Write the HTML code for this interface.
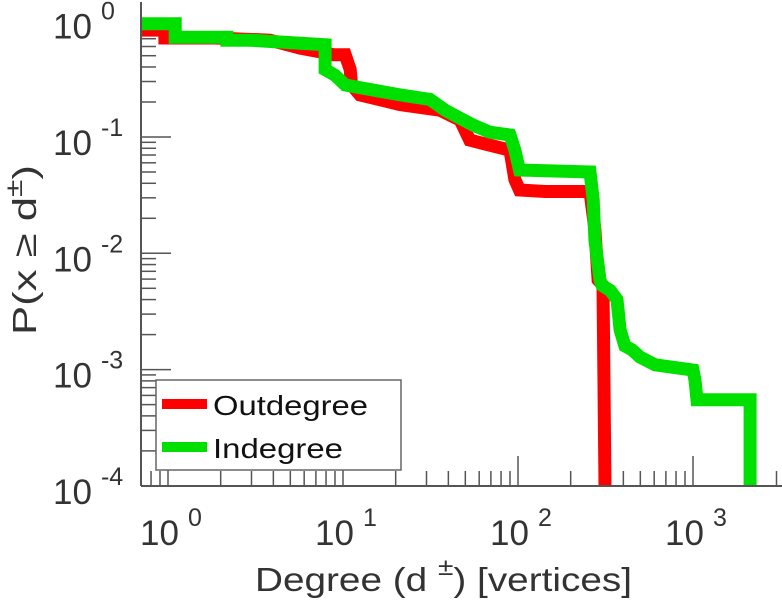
<!DOCTYPE html>
<html><head><meta charset="utf-8"><style>
html,body{margin:0;padding:0;background:#fff;}
svg{display:block;font-family:"Liberation Sans",sans-serif;}
</style></head><body>
<svg id="chart" width="782" height="600" viewBox="0 0 782 600" xmlns="http://www.w3.org/2000/svg">
<g id="ticks"></g>
<g id="series"></g>
<g id="labels"></g>
<line x1="141" y1="2" x2="141" y2="486" stroke="#555" stroke-width="2"/>
<line x1="141" y1="486" x2="782" y2="486" stroke="#555" stroke-width="2"/>
<text x="255" y="591" font-size="33" fill="#333" textLength="377" lengthAdjust="spacingAndGlyphs">Degree (d  <tspan dy="-16" font-size="24">±</tspan><tspan dy="16">) [vertices]</tspan></text>
<text transform="translate(36,335) rotate(-90)" font-size="33" fill="#333" textLength="170" lengthAdjust="spacingAndGlyphs">P(x ≥ d<tspan dy="-14" font-size="24">±</tspan><tspan dy="14">)</tspan></text>
<g>
<rect x="156" y="380" width="245" height="90" fill="#fff" stroke="#666" stroke-width="1.5"/>
<line x1="162" y1="404" x2="207" y2="404" stroke="#ff0000" stroke-width="10"/>
<text x="213" y="415" font-size="28" fill="#111" textLength="155" lengthAdjust="spacingAndGlyphs">Outdegree</text>
<line x1="162" y1="447" x2="207" y2="447" stroke="#00e000" stroke-width="10"/>
<text x="213" y="458" font-size="28" fill="#111" textLength="130" lengthAdjust="spacingAndGlyphs">Indegree</text>
</g>
</svg>
<script>
const xTickExps = [0, 1, 2, 3];
const yTickExps = [0, -1, -2, -3, -4];
const outX = [0.7,0.96,0.96,1.86,3.83,5.7,7.4,8.8,10.3,11.0,11.2,12.5,21.2,35.8,46.7,53,69,90,96,102,143,258,275,287,306,314];
const outY = [0.83,0.83,0.71,0.71,0.68,0.58,0.54,0.51,0.51,0.38,0.28,0.23,0.19,0.17,0.14,0.094,0.085,0.077,0.043,0.035,0.034,0.034,0.016,0.0059,0.0053,0.0001];
const inX = [0.7,1.1,1.1,2.17,2.17,2.94,7.9,7.9,9.0,10.3,21.2,31.4,38.3,55,69,90,96,102,258,269,275,294,302,336,368,383,408,448,498,607,1000,1026,1054,2120,2120];
const inY = [0.94,0.94,0.72,0.72,0.68,0.68,0.62,0.38,0.34,0.28,0.23,0.21,0.17,0.127,0.11,0.104,0.077,0.052,0.05,0.029,0.013,0.0059,0.0053,0.0048,0.004,0.0022,0.0016,0.00148,0.00128,0.0011,0.00099,0.00081,0.00055,0.00055,0.0001];

const NS = "http://www.w3.org/2000/svg";
const X0 = 168, XD = 175, Y0 = 20.7, YD = 116.3, LEFT = 141, BOTTOM = 486, RIGHT = 782, TOP = 2;
function sx(v){ return X0 + Math.log10(v) * XD; }
function sy(v){ return Y0 - Math.log10(v) * YD; }
function mk(tag, attrs, parent){ const e = document.createElementNS(NS, tag); for (const k in attrs) e.setAttribute(k, attrs[k]); parent.appendChild(e); return e; }

const ticks = document.getElementById('ticks');
for (let d = -1; d <= 4; d++) {
  for (let m = 1; m <= 9; m++) {
    const v = m * Math.pow(10, d);
    const x = sx(v);
    if (x < LEFT + 1 || x > RIGHT) continue;
    const len = m === 1 ? 30 : 15;
    const t = mk('line', {x1: x, y1: BOTTOM, x2: x, y2: BOTTOM - len, stroke: '#555', 'stroke-width': 1.5}, ticks);
    
    
  }
}
for (let d = -5; d <= 0; d++) {
  for (let m = 1; m <= 9; m++) {
    const v = m * Math.pow(10, d);
    const y = sy(v);
    if (y > BOTTOM - 1 || y < TOP) continue;
    const len = m === 1 ? 30 : 15;
    const t = mk('line', {x1: LEFT, y1: y, x2: LEFT + len, y2: y, stroke: '#555', 'stroke-width': 1.5}, ticks);
    
    
  }
}

const labels = document.getElementById('labels');
xTickExps.forEach(e => {
  const x = sx(Math.pow(10, e));
  const t = mk('text', {x: x - 28, y: 545, 'font-size': 35, fill: '#333'}, labels);
  
  
  t.innerHTML = '10<tspan dx="9" dy="-19" font-size="25">' + e + '</tspan>';
});
yTickExps.forEach(e => {
  const y = sy(Math.pow(10, e));
  const t = mk('text', {x: 53, y: y + 18, 'font-size': 35, fill: '#333'}, labels);
  
  
  t.innerHTML = '10<tspan dx="9" dy="-19" font-size="25">' + (e < 0 ? '-' + (-e) : e) + '</tspan>';
});

const series = document.getElementById('series');
function pathFrom(xs, ys){ return xs.map((v, i) => (i ? 'L' : 'M') + sx(v).toFixed(1) + ' ' + sy(ys[i]).toFixed(1)).join(' '); }
const pOut = mk('path', {d: pathFrom(outX, outY), fill: 'none', stroke: '#ff0000', 'stroke-width': 13, 'stroke-linejoin': 'miter'}, series);


const pIn = mk('path', {d: pathFrom(inX, inY), fill: 'none', stroke: '#00e000', 'stroke-width': 13, 'stroke-linejoin': 'miter'}, series);


</script>
</body></html>
